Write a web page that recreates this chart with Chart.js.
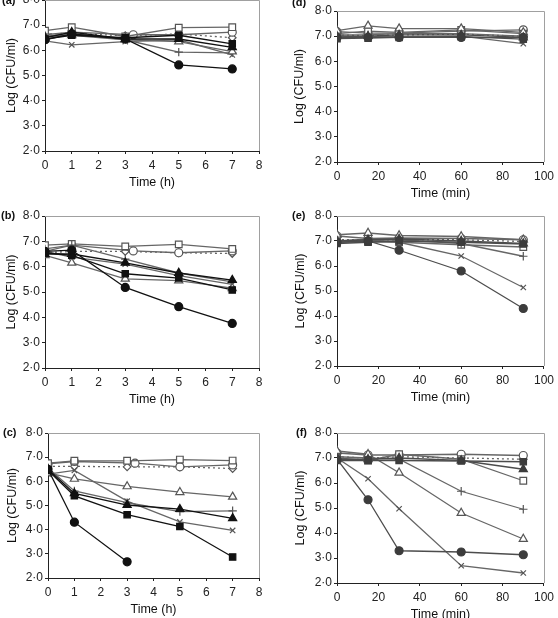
<!DOCTYPE html>
<html>
<head>
<meta charset="utf-8">
<script src="https://cdn.jsdelivr.net/npm/chart.js@4.4.1/dist/chart.umd.min.js"></script>
<style>
html, body { margin: 0; padding: 0; background: #fff; overflow: hidden; }
body { width: 558px; height: 618px; position: relative; }
canvas { position: absolute; }
</style>
</head>
<body>
<canvas id="chartA"></canvas>
<canvas id="chartB"></canvas>
<canvas id="chartC"></canvas>
<canvas id="chartD"></canvas>
<canvas id="chartE"></canvas>
<canvas id="chartF"></canvas>
<script>
// Sampling times
const hours = [0, 1, 3, 5, 7];
const hoursOpenCircle = [0, 1, 3.3, 5, 7];
const minutes = [0, 15, 30, 60, 90];

// Series order (same in every panel)
const seriesNames = ['filled circle', 'filled square', 'filled triangle', 'open triangle',
  'plus', 'cross', 'open square', 'open circle', 'open diamond (dotted)'];

// Log (CFU/ml), one row per series
const panelA = [
  [6.42, 6.65, 6.45, 5.42, 5.26],
  [6.45, 6.60, 6.50, 6.60, 6.26],
  [6.50, 6.72, 6.45, 6.45, 6.12],
  [6.55, 6.60, 6.42, 6.35, 5.95],
  [6.55, 6.68, 6.42, 5.93, 5.90],
  [6.38, 6.22, 6.35, 6.42, 5.82],
  [6.78, 6.92, 6.55, 6.90, 6.92],
  [6.62, 6.72, 6.62, 6.62, 6.72],
  [6.65, 6.68, 6.58, 6.65, 6.50]
];
const panelB = [
  [6.60, 6.65, 5.18, 4.42, 3.76],
  [6.55, 6.45, 5.72, 5.55, 5.08],
  [6.50, 6.50, 6.15, 5.75, 5.47],
  [6.45, 6.15, 5.52, 5.45, 5.15],
  [6.70, 6.85, 6.30, 5.75, 5.40],
  [6.60, 6.38, 6.10, 5.65, 5.30],
  [6.85, 6.90, 6.80, 6.88, 6.70],
  [6.60, 6.85, 6.62, 6.55, 6.62],
  [6.55, 6.60, 6.60, 6.55, 6.52]
];
const panelC = [
  [6.50, 4.31, 2.67, null, null],
  [6.45, 5.40, 4.62, 4.13, 2.87],
  [6.50, 5.50, 5.02, 4.85, 4.47],
  [6.35, 6.10, 5.79, 5.55, 5.36],
  [6.55, 5.60, 5.12, 4.75, 4.78],
  [6.30, 6.45, 5.18, 4.32, 3.97],
  [6.75, 6.85, 6.85, 6.90, 6.86],
  [6.72, 6.82, 6.75, 6.60, 6.68],
  [6.62, 6.62, 6.60, 6.60, 6.53]
];
const panelD = [
  [6.95, 6.95, 6.95, 6.95, 6.95],
  [6.90, 6.92, 6.95, 6.98, 6.88],
  [7.00, 7.00, 7.05, 7.05, 6.95],
  [7.22, 7.41, 7.30, 7.30, 7.15],
  [7.05, 7.05, 7.10, 7.10, 7.00],
  [7.00, 6.98, 6.98, 7.00, 6.70],
  [7.10, 7.20, 7.15, 7.25, 7.10],
  [7.18, 7.12, 7.12, 7.20, 7.25],
  [7.05, 7.02, 7.05, 7.08, 7.00]
];
const panelE = [
  [6.95, 7.00, 6.63, 5.80, 4.30],
  [6.90, 6.95, 7.00, 6.95, 6.88],
  [7.00, 7.05, 7.08, 7.00, 6.90],
  [7.25, 7.32, 7.22, 7.18, 7.05],
  [7.00, 7.05, 7.05, 6.90, 6.39],
  [7.00, 7.05, 6.95, 6.40, 5.14],
  [6.95, 6.98, 6.95, 6.85, 6.76],
  [7.20, 7.10, 7.12, 7.10, 7.05],
  [7.05, 7.05, 7.05, 7.05, 6.98]
];
const panelF = [
  [6.95, 5.33, 3.29, 3.24, 3.13],
  [6.90, 6.90, 6.90, 6.88, 6.85],
  [6.95, 6.95, 7.00, 6.90, 6.55],
  [7.28, 7.15, 6.41, 4.80, 3.76],
  [7.05, 7.00, 6.95, 5.67, 4.95],
  [7.00, 6.17, 4.97, 2.69, 2.40],
  [7.00, 6.90, 7.15, 6.95, 6.09],
  [7.20, 7.12, 7.12, 7.15, 7.10],
  [7.05, 7.00, 7.05, 7.00, 6.95]
];

const hourTicks = [0, 8, 1];
const minuteTicks = [0, 100, 20];
const yTicks = [2, 8, 1];

// marker look per series
const markerStyle = ['circle', 'rect', 'triangle', 'triangle', 'cross', 'crossRot', 'rect', 'circle', 'rectRot'];
const markerFilled = [true, true, true, false, false, false, false, false, false];
const markerSize = [4, 4.5, 4.7, 4.7, 4.2, 3.8, 4.7, 4, 3.8];

// panel placement on the page (box = canvas, area = plot frame)
const panels = [
  { id: 'chartA', label: '(a)', values: panelA, min: false, box: { x: 0, y: -20, w: 272, h: 210 }, area: { l: 45, t: 0, r: 259, b: 151 }, lab: { x: 2, y: 1 }, titleX: 12 },
  { id: 'chartB', label: '(b)', values: panelB, min: false, box: { x: 0, y: 200, w: 272, h: 207 }, area: { l: 45, t: 216, r: 259, b: 368 }, lab: { x: 1, y: 216 }, titleX: 12 },
  { id: 'chartC', label: '(c)', values: panelC, min: false, box: { x: 0, y: 415, w: 272, h: 202 }, area: { l: 48, t: 433, r: 259, b: 578 }, lab: { x: 3, y: 433 }, titleX: 13 },
  { id: 'chartD', label: '(d)', values: panelD, min: true, box: { x: 288, y: -5, w: 270, h: 206 }, area: { l: 337, t: 11, r: 547, b: 162 }, lab: { x: 292, y: 3 }, titleX: 300 },
  { id: 'chartE', label: '(e)', values: panelE, min: true, box: { x: 288, y: 200, w: 270, h: 205 }, area: { l: 337, t: 216, r: 547, b: 366 }, lab: { x: 292, y: 216 }, titleX: 301 },
  { id: 'chartF', label: '(f)', values: panelF, min: true, box: { x: 288, y: 415, w: 270, h: 207 }, area: { l: 337, t: 433, r: 547, b: 583 }, lab: { x: 296, y: 433 }, titleX: 301 }
];

const FONT = "'Liberation Sans', Arial, Helvetica, sans-serif";
const AXIS = '#222';

function fmt(v) {
  return v.toFixed(1).replace('.', '\u00b7');
}

// light frame on top/right + the panel letter
const framePlugin = {
  id: 'frame',
  beforeDatasetsDraw(chart) {
    const { ctx, chartArea: a } = chart;
    ctx.save();
    ctx.strokeStyle = '#a0a0a0';
    ctx.lineWidth = 1;
    ctx.beginPath();
    ctx.moveTo(a.left, Math.round(a.top) + 0.5);
    ctx.lineTo(Math.round(a.right) + 0.5, Math.round(a.top) + 0.5);
    ctx.lineTo(Math.round(a.right) + 0.5, a.bottom);
    ctx.stroke();
    ctx.restore();
  },
  afterDraw(chart, args, opts) {
    const ctx = chart.ctx;
    ctx.save();
    ctx.font = 'bold 11px ' + FONT;
    ctx.fillStyle = '#111';
    ctx.textAlign = 'left';
    ctx.textBaseline = 'middle';
    ctx.fillText(opts.text, opts.x, opts.y);
    ctx.restore();
  }
};

function buildDatasets(values, isMin) {
  const xs = isMin ? minutes : hours;
  return values.map((vals, i) => {
    const xList = (!isMin && i === 7) ? hoursOpenCircle : xs;
    const data = [];
    vals.forEach((v, j) => {
      if (v !== null) data.push({ x: xList[j], y: v });
    });
    const filled = markerFilled[i];
    let dark = '#555';
    let line = '#666';
    if (filled) {
      dark = isMin ? '#3c3c3c' : '#111';
      line = isMin ? '#4c4c4c' : '#111';
    }
    return {
      label: seriesNames[i],
      data: data,
      borderColor: line,
      backgroundColor: filled ? dark : '#fff',
      borderWidth: 1.3,
      borderDash: i === 8 ? [2, 3] : [],
      pointStyle: markerStyle[i],
      pointRadius: markerSize[i],
      pointBorderColor: dark,
      pointBackgroundColor: filled ? dark : '#fff',
      pointBorderWidth: 1.2,
      tension: 0,
      fill: false
    };
  });
}

panels.forEach(p => {
  const canvas = document.getElementById(p.id);
  canvas.width = p.box.w;
  canvas.height = p.box.h;
  canvas.style.left = p.box.x + 'px';
  canvas.style.top = p.box.y + 'px';

  const yWidth = p.area.l - p.box.x;
  const xHeight = p.box.y + p.box.h - p.area.b;
  const xt = p.min ? minuteTicks : hourTicks;

  new Chart(canvas, {
    type: 'line',
    data: { datasets: buildDatasets(p.values, p.min) },
    options: {
      responsive: false,
      animation: false,
      layout: {
        padding: { top: p.area.t - p.box.y, right: p.box.x + p.box.w - p.area.r, left: 0, bottom: 0 }
      },
      plugins: {
        legend: { display: false },
        tooltip: { enabled: false },
        frame: { text: p.label, x: p.lab.x - p.box.x, y: p.lab.y - p.box.y }
      },
      scales: {
        x: {
          type: 'linear',
          min: xt[0],
          max: xt[1],
          ticks: { stepSize: xt[2], color: AXIS, font: { family: FONT, size: 12 }, padding: 4 },
          grid: { display: true, drawOnChartArea: false, drawTicks: true, tickLength: 3, color: AXIS },
          border: { color: AXIS, width: 1 },
          title: { display: true, text: p.min ? 'Time (min)' : 'Time (h)', color: '#111', font: { family: FONT, size: 12.5 }, padding: { top: 0, bottom: 0 } },
          afterFit(scale) { scale.height = xHeight; }
        },
        y: {
          min: yTicks[0],
          max: yTicks[1],
          ticks: { stepSize: yTicks[2], color: AXIS, font: { family: FONT, size: 12 }, padding: 2, callback: v => fmt(v) },
          grid: { display: true, drawOnChartArea: false, drawTicks: true, tickLength: 3, color: AXIS },
          border: { color: AXIS, width: 1 },
          title: { display: true, text: 'Log (CFU/ml)', color: '#111', font: { family: FONT, size: 12.5 }, padding: { top: p.titleX - p.box.x - 7.5, bottom: 0 } },
          afterFit(scale) { scale.width = yWidth; }
        }
      }
    },
    plugins: [framePlugin]
  });
});
</script>
</body>
</html>
